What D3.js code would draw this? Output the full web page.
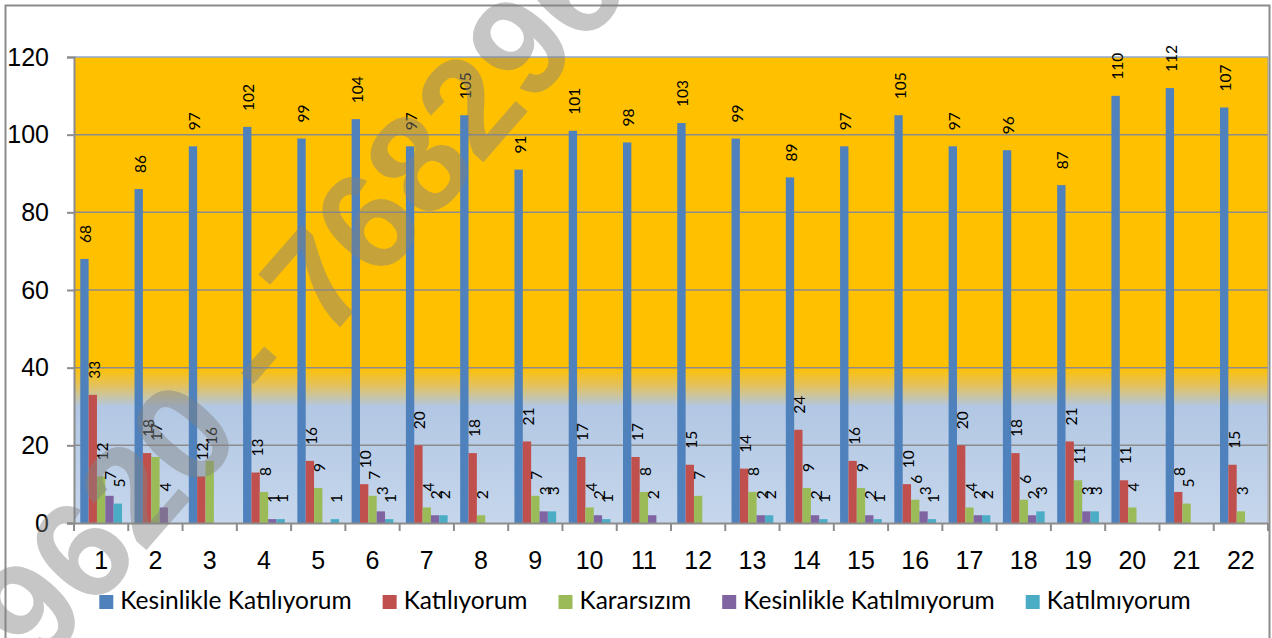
<!DOCTYPE html>
<head>
<meta charset="utf-8">
<title>Grouped bars</title>
<style>
body, html { margin: 0; padding: 0; background: #fff; }
svg { display: block; font-family: Lato, "Open Sans", sans-serif; }
.axis-label { font-size: 25px; fill: #000; }
.bar-label { font-size: 15.5px; fill: #000; }
.legend-text { font-size: 24.5px; fill: #000; }
</style>
<script src="https://cdn.jsdelivr.net/npm/d3@7"></script>
</head>
<body>
<script>
// categories and series values
var categories = ["1","2","3","4","5","6","7","8","9","10","11","12","13","14","15","16","17","18","19","20","21","22"];
var seriesNames = ["Kesinlikle Katılıyorum", "Katılıyorum", "Kararsızım", "Kesinlikle Katılmıyorum", "Katılmıyorum"];
var kesinlikleKatiliyorum = [68,86,97,102,99,104,97,105,91,101,98,103,99,89,97,105,97,96,87,110,112,107];
var katiliyorum = [33,18,12,13,16,10,20,18,21,17,17,15,14,24,16,10,20,18,21,11,8,15];
var kararsizim = [12,17,16,8,9,7,4,2,7,4,8,7,8,9,9,6,4,6,11,4,5,3];
var kesinlikleKatilmiyorum = [7,4,0,1,0,3,2,0,3,2,2,0,2,2,2,3,2,2,3,0,0,0];
var katilmiyorum = [5,0,0,1,1,1,2,0,3,1,0,0,2,1,1,1,2,3,3,0,0,0];
var yTicks = [0,20,40,60,80,100,120];
var watermark = "99620 - 7682964";

var colors = ["#4F81BD", "#C0504D", "#9BBB59", "#8064A2", "#4BACC6"];
var allSeries = [kesinlikleKatiliyorum, katiliyorum, kararsizim, kesinlikleKatilmiyorum, katilmiyorum];

var W = 1272, H = 638;
var plot = {left: 74, right: 1268, top: 57, bottom: 523};

var svg = d3.select("body").append("svg")
    .attr("width", W)
    .attr("height", H);

var defs = svg.append("defs");
var grad = defs.append("linearGradient")
    .attr("id", "bg")
    .attr("x1", 0).attr("y1", 0).attr("x2", 0).attr("y2", 1);
grad.append("stop").attr("offset", 0).attr("stop-color", "#FFC000");
grad.append("stop").attr("offset", 0.665).attr("stop-color", "#FFC000");
grad.append("stop").attr("offset", 0.705).attr("stop-color", "#E3C25C");
grad.append("stop").attr("offset", 0.75).attr("stop-color", "#B2C7E3");
grad.append("stop").attr("offset", 1).attr("stop-color", "#C6D7EC");

// chart border
svg.append("rect")
    .attr("x", 5.5).attr("y", 5.5)
    .attr("width", 1264).attr("height", 640)
    .attr("fill", "#fff")
    .attr("stroke", "#8C8C8C")
    .attr("stroke-width", 2);

var x = d3.scaleBand()
    .domain(categories)
    .range([plot.left, plot.right])
    .paddingInner(0).paddingOuter(0);

var step = x.bandwidth();
var barW = step / 6.5;
var xs = d3.scaleBand()
    .domain(d3.range(seriesNames.length))
    .range([barW * 0.75, barW * 0.75 + barW * 5]);

var y = d3.scaleLinear()
    .domain([0, 120])
    .range([plot.bottom, plot.top]);

// plot background
svg.append("rect")
    .attr("x", plot.left).attr("y", plot.top)
    .attr("width", plot.right - plot.left)
    .attr("height", plot.bottom - plot.top)
    .attr("fill", "url(#bg)");

// gridlines
svg.append("g")
    .selectAll("line")
    .data(yTicks.filter(function(d) { return d > 0; }))
    .join("line")
    .attr("x1", plot.left).attr("x2", plot.right)
    .attr("y1", function(d) { return y(d); })
    .attr("y2", function(d) { return y(d); })
    .attr("stroke", function(d) { return d == 120 ? "#8FA9CC" : "#8C8C8C"; })
    .attr("stroke-width", 1.5);

svg.append("line")
    .attr("x1", plot.right).attr("x2", plot.right)
    .attr("y1", plot.top).attr("y2", plot.bottom)
    .attr("stroke", "#A0A0A0").attr("stroke-width", 1);

// bars
var groups = svg.append("g")
    .selectAll("g")
    .data(allSeries)
    .join("g")
    .attr("fill", function(d, i) { return colors[i]; });

groups.each(function(vals, si) {
  var g = d3.select(this);
  g.selectAll("rect")
    .data(vals)
    .join("rect")
    .attr("x", function(d, ci) { return x(categories[ci]) + xs(si); })
    .attr("y", function(d) { return y(d); })
    .attr("width", xs.bandwidth())
    .attr("height", function(d) { return y(0) - y(d); });
});

// data labels, rotated
groups.each(function(vals, si) {
  var g = d3.select(this);
  g.selectAll("text")
    .data(vals.map(function(v, ci) { return {v: v, ci: ci}; }).filter(function(d) { return d.v > 0; }))
    .join("text")
    .attr("class", "bar-label")
    .attr("transform", function(d) {
      var cx = x(categories[d.ci]) + xs(si) + xs.bandwidth() / 2 + 1;
      var cy = y(d.v) - 16;
      return "translate(" + cx + "," + cy + ") rotate(-90)";
    })
    .attr("dominant-baseline", "central")
    .text(function(d) { return d.v; });
});

// y axis
var yAxis = d3.axisLeft(y).tickValues(yTicks).tickSize(7).tickPadding(18);
var yg = svg.append("g")
    .attr("transform", "translate(" + plot.left + ",0)")
    .call(yAxis);
yg.select(".domain").attr("stroke", "#8C8C8C").attr("stroke-width", 2);
yg.selectAll(".tick line").attr("stroke", "#8C8C8C").attr("stroke-width", 2);
yg.selectAll(".tick text").attr("class", "axis-label").attr("font-family", null).attr("font-size", null)
    .attr("x", -25);

// x axis
var xAxis = d3.axisBottom(x).tickSize(0).tickPadding(28);
var xg = svg.append("g")
    .attr("transform", "translate(0," + plot.bottom + ")")
    .call(xAxis);
xg.select(".domain").attr("stroke", "#8C8C8C").attr("stroke-width", 2);
xg.selectAll(".tick text").attr("class", "axis-label").attr("font-family", null).attr("font-size", null);
xg.selectAll(".sep")
    .data(categories.concat(["end"]))
    .join("line")
    .attr("class", "sep")
    .attr("x1", function(d, i) { return i < categories.length ? x(d) : plot.right; })
    .attr("x2", function(d, i) { return i < categories.length ? x(d) : plot.right; })
    .attr("y1", 0).attr("y2", 8)
    .attr("stroke", "#8C8C8C").attr("stroke-width", 2);

// legend
var legend = svg.append("g");
var items = legend.selectAll("g")
    .data(seriesNames)
    .join("g");
items.append("rect")
    .attr("width", 14).attr("height", 14)
    .attr("y", -14)
    .attr("fill", function(d, i) { return colors[i]; });
items.append("text")
    .attr("class", "legend-text")
    .attr("x", 21)
    .attr("y", 0)
    .text(function(d) { return d; });
var lx = 0;
items.each(function() {
  var w = d3.select(this).select("text").node().getComputedTextLength();
  d3.select(this).attr("transform", "translate(" + lx + ",0)");
  lx += 21 + w + 31;
});
lx -= 31;
legend.attr("transform", "translate(" + (645 - lx / 2) + ",609)");

// watermark
svg.append("text")
    .attr("transform", "translate(-10,730) rotate(-49)")
    .attr("font-family", "'Liberation Sans', Arial, sans-serif")
    .attr("font-weight", "bold")
    .attr("font-size", 140)
    .attr("fill", "#808080")
    .attr("fill-opacity", 0.45)
    .text(watermark);
</script>
</body>
</html>
